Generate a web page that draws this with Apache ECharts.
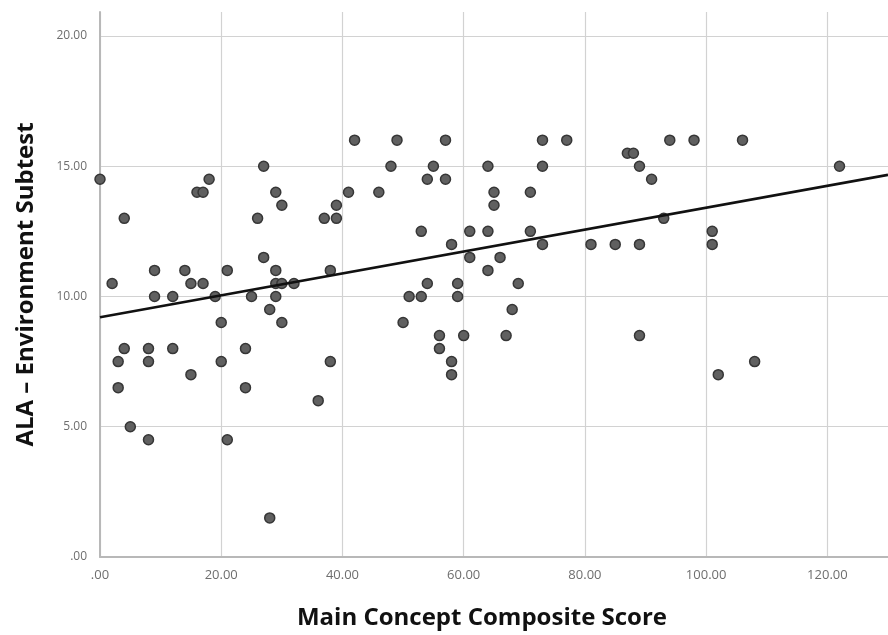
<!DOCTYPE html>
<html>
<head>
<meta charset="utf-8">
<script src="https://cdn.jsdelivr.net/npm/echarts@6/dist/echarts.min.js"></script>
<style>
html,body{margin:0;padding:0;background:#fff;}
#chart{width:888px;height:635px;}
</style>
</head>
<body>
<div id="chart"></div>
<script>
// Main Concept Composite Score (x) for each case
const xValues = [
  0, 4, 2, 9, 9, 12, 14, 15, 17, 16, 17, 18, 19, 21, 25, 26, 27, 27, 29, 30,
  29, 29, 30, 32, 29, 28, 20, 30, 4, 8, 12, 24, 3, 8, 20, 15, 3, 24, 5, 8,
  21, 28, 42, 49, 57, 73, 77, 48, 55, 64, 73, 54, 57, 41, 46, 65, 71, 39, 65, 37,
  39, 53, 61, 64, 71, 58, 73, 81, 61, 66, 38, 64, 54, 59, 69, 51, 53, 59, 68, 50,
  56, 60, 67, 56, 58, 58, 38, 36, 94, 98, 106, 87, 88, 89, 122, 91, 93, 101, 101, 85,
  89, 89, 108, 102
];
// ALA - Environment Subtest (y) for each case
const yValues = [
  14.5, 13, 10.5, 11, 10, 10, 11, 10.5, 10.5, 14, 14, 14.5, 10, 11, 10, 13, 15, 11.5, 14, 13.5,
  11, 10.5, 10.5, 10.5, 10, 9.5, 9, 9, 8, 8, 8, 8, 7.5, 7.5, 7.5, 7, 6.5, 6.5, 5, 4.5,
  4.5, 1.5, 16, 16, 16, 16, 16, 15, 15, 15, 15, 14.5, 14.5, 14, 14, 14, 14, 13.5, 13.5, 13,
  13, 12.5, 12.5, 12.5, 12.5, 12, 12, 12, 11.5, 11.5, 11, 11, 10.5, 10.5, 10.5, 10, 10, 10, 9.5, 9,
  8.5, 8.5, 8.5, 8, 7.5, 7, 7.5, 6, 16, 16, 16, 15.5, 15.5, 15, 15, 14.5, 13, 12.5, 12, 12,
  12, 8.5, 7.5, 7
];
// Fit line end points (x, y)
const fitX = [0, 130];
const fitY = [9.2, 14.67];

const xTickValues = [0, 20, 40, 60, 80, 100, 120];
const xTickLabels = ['.00', '20.00', '40.00', '60.00', '80.00', '100.00', '120.00'];
const yTickValues = [0, 5, 10, 15, 20];
const yTickLabels = ['.00', '5.00', '10.00', '15.00', '20.00'];

const xTitle = 'Main Concept Composite Score';
const yTitle = 'ALA \u2013 Environment Subtest';

const points = xValues.map((x, i) => [x, yValues[i]]);
const fitData = fitX.map((x, i) => [x, fitY[i]]);

const chart = echarts.init(document.getElementById('chart'), null, {renderer: 'canvas'});
const labelFor = (vals, labels) => v => {
  const i = vals.indexOf(Math.round(v * 1000) / 1000);
  return i >= 0 ? labels[i] : '';
};

chart.setOption({
  animation: false,
  backgroundColor: '#ffffff',
  grid: {left: 100, top: 12, right: 0, bottom: 77},
  xAxis: {
    type: 'value', min: 0, max: 130, interval: 20,
    name: xTitle, nameLocation: 'middle', nameGap: 49,
    nameTextStyle: {fontFamily: 'Open Sans', fontWeight: 'bold', fontSize: 24, color: '#111', padding: [0, 24, 0, 0]},
    axisLine: {show: true, onZero: false, lineStyle: {color: '#b8b8b8', width: 2}},
    axisTick: {show: false},
    axisLabel: {formatter: labelFor(xTickValues, xTickLabels), fontFamily: 'Open Sans', fontSize: 13, color: '#6e6e6e', margin: 12, showMaxLabel: false},
    splitLine: {show: true, showMaxLine: false, lineStyle: {color: '#d2d2d2', width: 1.2}}
  },
  yAxis: {
    type: 'value', min: 0, max: 20.92, interval: 5,
    name: yTitle, nameLocation: 'middle', nameGap: 62, nameRotate: 90,
    nameTextStyle: {fontFamily: 'Open Sans', fontWeight: 'bold', fontSize: 24, color: '#111'},
    axisLine: {show: true, onZero: false, lineStyle: {color: '#b8b8b8', width: 2}},
    axisTick: {show: false},
    axisLabel: {formatter: labelFor(yTickValues, yTickLabels), fontFamily: 'Open Sans', fontSize: 12, color: '#6e6e6e', margin: 13, showMaxLabel: false},
    splitLine: {show: true, showMaxLine: false, lineStyle: {color: '#d2d2d2', width: 1.2}}
  },
  series: [
    {
      type: 'scatter', data: points, symbol: 'circle', symbolSize: 10,
      itemStyle: {color: '#606060', borderColor: '#363636', borderWidth: 1.5, opacity: 1},
      z: 3
    },
    {
      type: 'line', data: fitData, symbol: 'none', silent: true,
      lineStyle: {color: '#111111', width: 2.6},
      z: 4
    }
  ]
});
</script>
</body>
</html>
